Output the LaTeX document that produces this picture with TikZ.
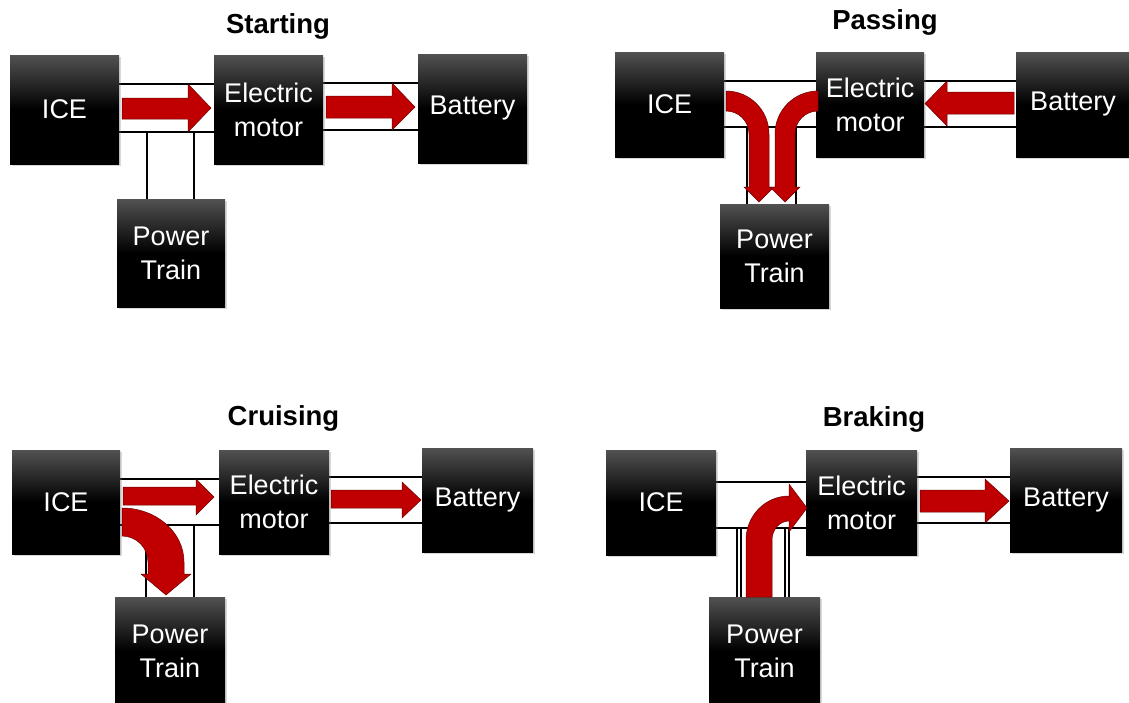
\documentclass[tikz,border=0pt]{standalone}
\usepackage{fontspec}
\setsansfont{Liberation Sans}
\usepackage{xcolor}
\usepackage{tikz}
\usetikzlibrary{shadows, calc}
\definecolor{flowred}{RGB}{192,0,0}
\tikzset{
  unitbox/.style={
    rectangle, draw=none, inner sep=0pt, align=center, text=white,
    top color=black!68, bottom color=black, middle color=black,
    font=\sffamily\fontsize{27}{34}\selectfont,
    minimum width=109pt, minimum height=106pt,
    drop shadow={opacity=0.3, shadow xshift=1.5pt, shadow yshift=-1.5pt}
  },
  modetitle/.style={
    anchor=base, font=\sffamily\bfseries\fontsize{27.5}{30}\selectfont
  },
  duct/.style={draw=black, line width=1.1pt},
  flowarrow/.style={
    fill=flowred, draw=flowred!55!black, line width=0.5pt, line join=miter
  },
}

\begin{document}
\begin{tikzpicture}[x=1pt, y=-1pt]
  \useasboundingbox (0,0) rectangle (1129,702);

  % ── Starting (top left) ──
  \node[modetitle] (s-title) at (278,33) {Starting};
  \draw[duct] (119,84) -- (214,84);
  \draw[duct] (119,132) -- (214,132);
  \draw[duct] (323,83) -- (418,83);
  \draw[duct] (323,130) -- (418,130);
  \draw[duct] (147,132) -- (147,199);
  \draw[duct] (194,132) -- (194,199);

  \node[unitbox, minimum height=109pt] (s-ice) at (64.5,109.5) {ICE};
  \node[unitbox, minimum height=109pt] (s-em) at (268.5,109.5) {Electric\\motor};
  \node[unitbox, minimum height=109pt] (s-bat) at (472.5,108.5) {Battery};
  \node[unitbox, minimum width=108pt, minimum height=108pt] (s-pt) at (171,253) {Power\\Train};

  \filldraw[flowarrow] (122,98) -- (188,98) -- (188,84) -- (211,108) -- (188,132)
    -- (188,119) -- (122,119) -- cycle;
  \filldraw[flowarrow] (326,96) -- (392,96) -- (392,83) -- (415,107) -- (392,130)
    -- (392,118) -- (326,118) -- cycle;

  % ── Passing (top right) ──
  \node[modetitle] (p-title) at (885,29) {Passing};
  \draw[duct] (724,81) -- (816,81);
  \draw[duct] (724,127) -- (816,127);
  \draw[duct] (924,81) -- (1016,81);
  \draw[duct] (924,127) -- (1016,127);
  \draw[duct] (747,127) -- (747,204);
  \draw[duct] (796,127) -- (796,204);

  \node[unitbox, minimum height=105pt] (p-ice) at (669.5,104.5) {ICE};
  \node[unitbox, minimum width=108pt, minimum height=105pt] (p-em) at (870,104.5) {Electric\\motor};
  \node[unitbox, minimum width=114pt, minimum height=105pt] (p-bat) at (1073,104.5) {Battery};
  \node[unitbox, minimum height=104pt] (p-pt) at (774.5,256) {Power\\Train};

  \filldraw[flowarrow] (726,91) arc[start angle=270, end angle=360, radius=43]
    -- (769,187) -- (774,187) -- (759,202) -- (744,187) -- (749,187) -- (749,134)
    arc[start angle=0, end angle=-90, radius=23] -- cycle;
  \filldraw[flowarrow] (818,91) arc[start angle=270, end angle=180, radius=43]
    -- (775,187) -- (770,187) -- (785,202) -- (800,187) -- (795,187) -- (795,134)
    arc[start angle=180, end angle=270, radius=23] -- cycle;
  \filldraw[flowarrow] (1014,92) -- (947,92) -- (947,81) -- (925,103.5) -- (947,126)
    -- (947,114) -- (1014,114) -- cycle;

  % ── Cruising (bottom left) ──
  \node[modetitle] (c-title) at (283.5,425) {Cruising};
  \draw[duct] (120,479) -- (219,479);
  \draw[duct] (120,525) -- (219,525);
  \draw[duct] (329,477) -- (422,477);
  \draw[duct] (329,523) -- (422,523);
  \draw[duct] (146,525) -- (146,597);
  \draw[duct] (194,525) -- (194,597);

  \node[unitbox, minimum width=108pt, minimum height=104pt] (c-ice) at (66,502) {ICE};
  \node[unitbox, minimum width=110pt, minimum height=104pt] (c-em) at (274,502) {Electric\\motor};
  \node[unitbox, minimum width=111pt, minimum height=104pt] (c-bat) at (477.5,500) {Battery};
  \node[unitbox, minimum width=110pt, minimum height=108pt] (c-pt) at (170,651) {Power\\Train};

  \filldraw[flowarrow] (123,487) -- (196,487) -- (196,479) -- (214,497) -- (196,515)
    -- (196,505) -- (123,505) -- cycle;
  \filldraw[flowarrow] (122,508) arc[start angle=270, end angle=360, x radius=62, y radius=54]
    -- (184,574) -- (191,574) -- (166,595) -- (141,574) -- (148,574) -- (148,562)
    arc[start angle=0, end angle=-90, radius=26] -- cycle;
  \filldraw[flowarrow] (331,490) -- (402,490) -- (402,482) -- (421,500) -- (402,518)
    -- (402,508) -- (331,508) -- cycle;

  % ── Braking (bottom right) ──
  \node[modetitle] (b-title) at (874,426) {Braking};
  \draw[duct] (716,482) -- (806,482);
  \draw[duct] (716,528) -- (806,528);
  \draw[duct] (917,477) -- (1010,477);
  \draw[duct] (917,523) -- (1010,523);
  \draw[duct] (737,528) -- (737,597);
  \draw[duct] (741,528) -- (741,597);
  \draw[duct] (785,528) -- (785,597);
  \draw[duct] (789,528) -- (789,597);

  \node[unitbox, minimum width=110pt, minimum height=105pt] (b-ice) at (661,502.5) {ICE};
  \node[unitbox, minimum width=111pt, minimum height=105pt] (b-em) at (861.5,502.5) {Electric\\motor};
  \node[unitbox, minimum width=112pt, minimum height=104pt] (b-bat) at (1066,500) {Battery};
  \node[unitbox, minimum width=111pt, minimum height=108pt] (b-pt) at (764.5,651) {Power\\Train};

  \filldraw[flowarrow] (746,597) -- (746,540)
    arc[start angle=180, end angle=270, x radius=43, y radius=44]
    -- (789,484) -- (807,508) -- (789,532) -- (789,521)
    arc[start angle=270, end angle=180, x radius=17, y radius=19] -- (772,597) -- cycle;
  \filldraw[flowarrow] (920,490) -- (985,490) -- (985,479) -- (1009,501) -- (985,523)
    -- (985,512) -- (920,512) -- cycle;
\end{tikzpicture}
\end{document}
